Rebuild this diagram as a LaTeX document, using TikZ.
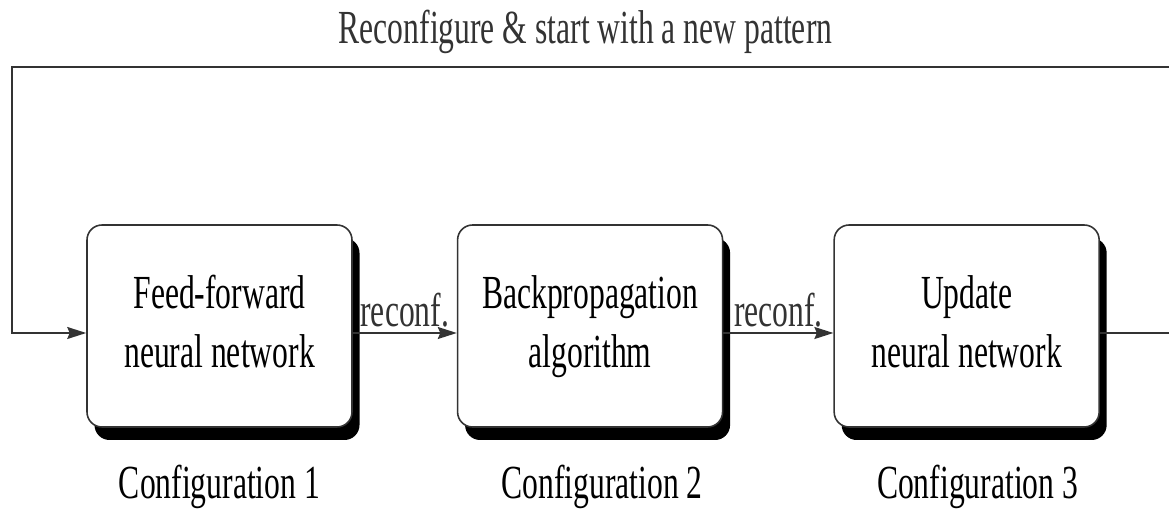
\documentclass[tikz,border=0pt]{standalone}
\usepackage{fontspec}
\setmainfont{Liberation Serif}
\usepackage{graphicx}
\usepackage{tikz}
\usetikzlibrary{positioning,shadows,arrows.meta}
\definecolor{line_grey}{HTML}{333333}
\newcommand{\tallline}[1]{\scalebox{1}[1.5]{#1}}
\newcommand{\tallblock}[1]{\scalebox{1}[1.5]{\begin{tabular}{@{}c@{}}#1\end{tabular}}}
\tikzset{
	stage/.style={draw=line_grey, line width=0.9pt, fill=white, rounded corners=0.3cm,
		minimum width=5.3cm, minimum height=4.04cm, inner sep=0pt,
		drop shadow={shadow xshift=0.15cm, shadow yshift=-0.26cm, fill=black, opacity=1}},
	flow/.style={line_grey, line width=0.9pt, -{Stealth[length=0.38cm, width=0.24cm, inset=0.05cm]}},
	caption/.style={inner sep=0pt}
}

\begin{document}
\begin{tikzpicture}[font=\fontsize{18}{22.3}\selectfont]
	\useasboundingbox (0, 0) rectangle (23.38, -10.2);
	\node[stage] (ff) at (4.39, -6.52) {\tallblock{Feed-forward\\neural network}};
	\node[stage, right=2.08cm of ff] (bp) {\tallblock{Backpropagation\\algorithm}};
	\node[stage, right=2.2cm of bp] (up) {\tallblock{Update\\neural network}};
	\node[caption, below=0.74cm of ff] (cfg1) {\tallline{Configuration 1}};
	\node[caption, below=0.74cm of bp, xshift=0.24cm] (cfg2) {\tallline{Configuration 2}};
	\node[caption, below=0.74cm of up, xshift=0.22cm] (cfg3) {\tallline{Configuration 3}};
	\draw[flow] ([yshift=-0.14cm]ff.east) -- node[caption, above=0.1cm] {\tallline{reconf.}} ([yshift=-0.14cm]bp.west);
	\draw[flow] ([yshift=-0.14cm]bp.east) -- node[caption, above=0.1cm] {\tallline{reconf.}} ([yshift=-0.14cm]up.west);
	\coordinate (outR) at (23.6, -6.66);
	\coordinate (topR) at (23.6, -1.34);
	\coordinate (topL) at (0.24, -1.34);
	\coordinate (inL) at (0.24, -6.66);
	\draw[flow] ([yshift=-0.14cm]up.east) -- (outR) -- (topR)
		-- node[caption, pos=0.509, above=0.24cm] {\tallline{Reconfigure \& start with a new pattern}} (topL)
		-- (inL) -- ([yshift=-0.14cm]ff.west);
\end{tikzpicture}
\end{document}
